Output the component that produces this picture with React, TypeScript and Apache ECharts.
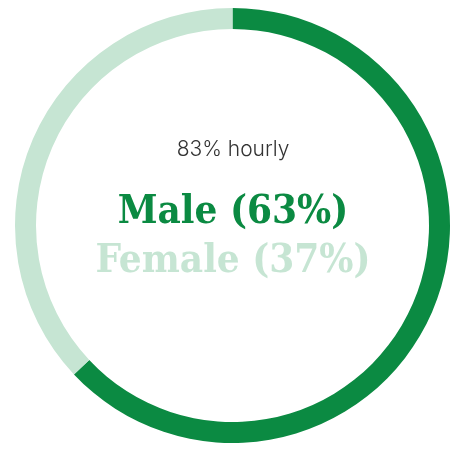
import React, { useEffect, useRef } from "react";
import * as echarts from "echarts";

const categories = ["Male", "Female"];
const shares = [63, 37];
const colors = ["#0b8a42", "#c6e5d3"];
const subtitle = "83% hourly";

export default function App() {
  const ref = useRef<HTMLDivElement>(null);
  useEffect(() => {
    document.body.style.margin = "0";
    const chart = echarts.init(ref.current!, undefined, { renderer: "svg" });
    chart.setOption({
      animation: false,
      series: [
        {
          type: "pie",
          center: [232.5, 225.5],
          radius: [196.5, 217.5],
          startAngle: 90,
          clockwise: true,
          label: { show: false },
          labelLine: { show: false },
          emphasis: { disabled: true },
          itemStyle: { borderWidth: 0 },
          data: categories.map((c, i) => ({
            name: c,
            value: shares[i],
            itemStyle: { color: colors[i] },
          })),
        },
      ],
      graphic: [
        {
          type: "text",
          x: 233,
          y: 148,
          style: {
            text: subtitle,
            fill: "#333333",
            font: "300 21px Inter",
            textAlign: "center",
            textVerticalAlign: "middle",
          },
        },
        ...categories.map((c, i) => ({
          type: "text",
          x: 233,
          y: 208 + i * 49,
          style: {
            text: `${c} (${shares[i]}%)`,
            fill: colors[i],
            font: "bold 40px 'DejaVu Serif Condensed'",
            textAlign: "center",
            textVerticalAlign: "middle",
          },
        })),
      ],
    });
    return () => chart.dispose();
  }, []);
  return (
    <div
      ref={ref}
      style={{ position: "fixed", left: 0, top: 0, width: 459, height: 449 }}
    />
  );
}
